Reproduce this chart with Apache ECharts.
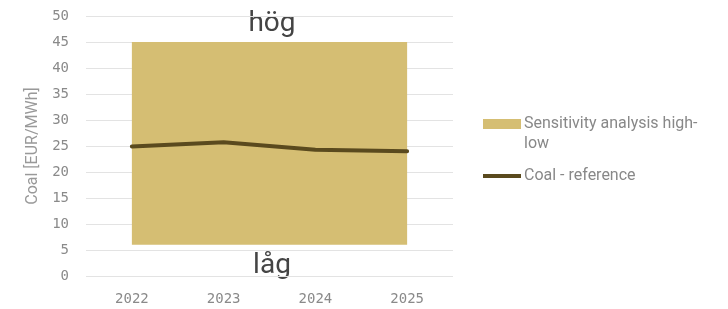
<!DOCTYPE html>
<html><head><meta charset="utf-8">
<script src="https://cdn.jsdelivr.net/npm/echarts@6/dist/echarts.min.js"></script>
<style>html,body{margin:0;padding:0;background:#fff}#c{width:728px;height:309px}</style>
</head><body><div id="c"></div>
<script>
var categories = ['2022', '2023', '2024', '2025'];
var bandLow = [6, 6, 6, 6];
var bandHigh = [45, 45, 45, 45];
var coalReference = [24.9, 25.7, 24.3, 24.0];
var yTicks = { min: 0, max: 50, interval: 5 };

var bandSpan = bandHigh.map(function (v, i) { return v - bandLow[i]; });
var legendText = { color: '#888', fontFamily: 'Roboto', fontSize: 16, lineHeight: 20, padding: [0, 0, 0, -2] };
var chart = echarts.init(document.getElementById('c'));
chart.setOption({
  animation: false,
  grid: { left: 86, right: 275, top: 16, bottom: 33 },
  xAxis: {
    type: 'category', data: categories, boundaryGap: true,
    axisLine: { show: false }, axisTick: { show: false },
    axisLabel: { color: '#8a8a8a', fontFamily: 'DejaVu Sans Mono', fontSize: 14, margin: 16 }
  },
  yAxis: {
    type: 'value', min: yTicks.min, max: yTicks.max, interval: yTicks.interval,
    name: 'Coal [EUR/MWh]', nameLocation: 'middle', nameGap: 38,
    nameTextStyle: { color: '#999', fontFamily: 'Roboto', fontSize: 16 },
    axisLabel: { color: '#8a8a8a', fontFamily: 'DejaVu Sans Mono', fontSize: 14, margin: 17 },
    splitLine: { lineStyle: { color: '#e3e3e3', width: 1 } }
  },
  legend: [
    {
      orient: 'vertical', left: 478, top: 109,
      textStyle: legendText,
      data: [{ name: 'Sensitivity analysis high-low', icon: 'path://M0,0 L0,0 M0,5 L38,5 L38,15 L0,15 Z M0,40 L0,40', itemStyle: { color: '#D5BE73' } }],
      itemWidth: 38, itemHeight: 40,
      formatter: function () { return 'Sensitivity analysis high-\nlow'; }
    },
    {
      orient: 'vertical', left: 478, top: 161,
      textStyle: legendText,
      data: [{ name: 'Coal - reference', icon: 'path://M0,0 L40,0 L40,4 L0,4 Z', itemStyle: { color: '#5A4A1E' } }],
      itemWidth: 38, itemHeight: 10
    }
  ],
  series: [
    { name: 'base', type: 'line', stack: 'band', data: bandLow, symbol: 'none',
      lineStyle: { opacity: 0 }, areaStyle: { opacity: 0 }, silent: true },
    { name: 'Sensitivity analysis high-low', type: 'line', stack: 'band', data: bandSpan, symbol: 'none',
      lineStyle: { opacity: 0 }, areaStyle: { color: '#D5BE73', opacity: 1 }, itemStyle: { color: '#D5BE73' } },
    { name: 'Coal - reference', type: 'line', data: coalReference, symbol: 'none', smooth: false,
      lineStyle: { color: '#5A4A1E', width: 4, cap: 'round', join: 'round' }, itemStyle: { color: '#5A4A1E' }, z: 5 }
  ],
  graphic: [
    { type: 'text', x: 272, y: 10, style: { text: 'hög', fill: '#444', font: '28px Roboto', textAlign: 'center' } },
    { type: 'text', x: 272, y: 252, style: { text: 'låg', fill: '#444', font: '28px Roboto', textAlign: 'center' } }
  ]
});
</script></body></html>
